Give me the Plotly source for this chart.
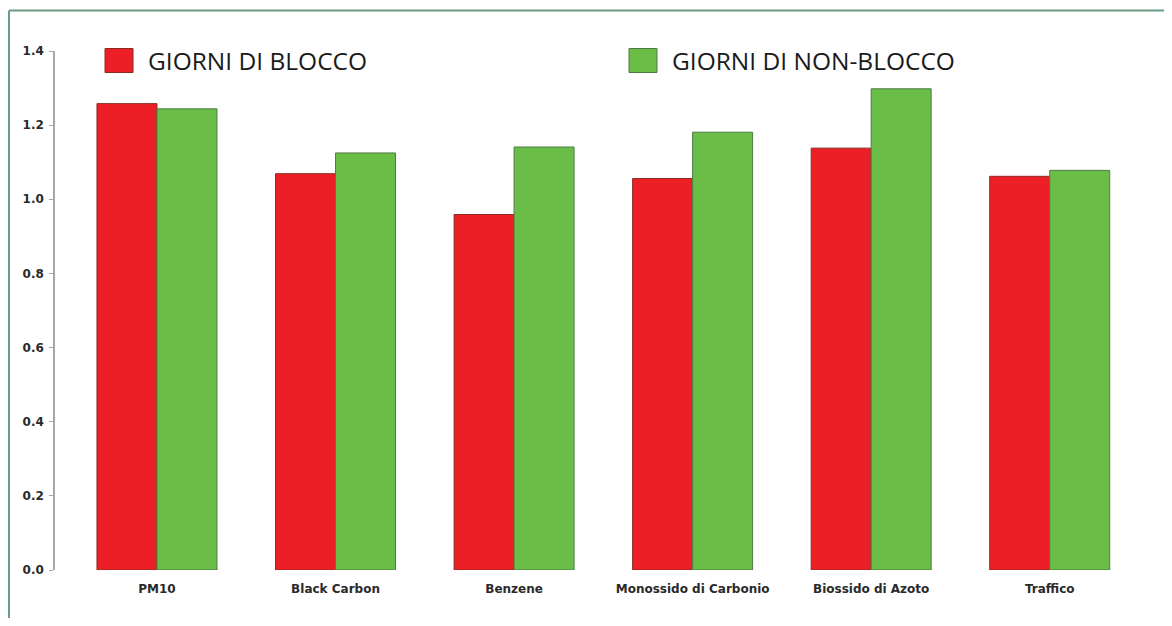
import plotly.graph_objects as go

# data
categorie = ["PM10", "Black Carbon", "Benzene", "Monossido di Carbonio",
             "Biossido di Azoto", "Traffico"]
blocco = [1.258, 1.069, 0.959, 1.056, 1.138, 1.062]
non_blocco = [1.244, 1.125, 1.141, 1.181, 1.298, 1.078]
y_ticks = [0.0, 0.2, 0.4, 0.6, 0.8, 1.0, 1.2, 1.4]

nome_blocco = "GIORNI DI BLOCCO"
nome_non_blocco = "GIORNI DI NON-BLOCCO"

ROSSO = "#ED1F26"
VERDE = "#6ABD46"

# the page body has an 8px margin, so the figure sits at (8, 8)
OFF = 8
W, H = 1172 - 2 * OFF, 626 - 2 * OFF
ML, MR, MT, MB = 46, 25, 43, 48
PW = W - ML - MR
PH = H - MT - MB


def px(x):
    # window pixel -> paper x
    return (x - OFF - ML) / PW


def py(y):
    # window pixel -> paper y
    return (H - MB - (y - OFF)) / PH


fig = go.Figure()
fig.add_trace(go.Bar(
    x=categorie, y=blocco, name=nome_blocco,
    marker=dict(color=ROSSO, line=dict(color="#8a2a22", width=1)),
))
fig.add_trace(go.Bar(
    x=categorie, y=non_blocco, name=nome_non_blocco,
    marker=dict(color=VERDE, line=dict(color="#4f7a45", width=1)),
))

# hand drawn legend (big squares like the original)
for x0, col, lcol, txt in [(105, ROSSO, "#8a2a22", nome_blocco),
                           (629, VERDE, "#4f7a45", nome_non_blocco)]:
    fig.add_shape(type="rect", xref="paper", yref="paper",
                  x0=px(x0), x1=px(x0 + 28), y0=py(72.5), y1=py(48.5),
                  fillcolor=col, line=dict(color=lcol, width=1))
    fig.add_annotation(text=txt, xref="paper", yref="paper",
                       x=px(x0 + 41), y=py(60.5), xanchor="left", yanchor="middle",
                       showarrow=False,
                       font=dict(family="Open Sans", size=24.5, color="#1a1a1a"))

# frame lines (top and left) of the original box
fig.add_shape(type="line", xref="paper", yref="paper",
              x0=px(9), x1=px(W + OFF + 5), y0=py(10.5), y1=py(10.5),
              line=dict(color="#6b9c84", width=2))
fig.add_shape(type="line", xref="paper", yref="paper",
              x0=px(9), x1=px(9), y0=py(10.5), y1=py(H + OFF + 5),
              line=dict(color="#6b9c84", width=2))

fig.update_layout(
    width=W, height=H,
    margin=dict(l=ML, r=MR, t=MT, b=MB),
    paper_bgcolor="white", plot_bgcolor="white",
    barmode="group", bargap=0.328, bargroupgap=0,
    showlegend=False,
    font=dict(family="DejaVu Sans", color="#2a2a2a"),
)
fig.update_xaxes(
    domain=[px(67.7), 1],
    showline=False, showgrid=False, zeroline=False,
    ticks="outside", ticklen=8, tickcolor="rgba(0,0,0,0)",
    tickfont=dict(family="DejaVu Sans", size=12, weight="bold", color="#2a2a2a"),
)
fig.update_yaxes(
    range=[0, 1.4], anchor="free", position=0,
    tickvals=y_ticks, ticktext=["%.1f" % v for v in y_ticks],
    showline=True, linecolor="#a8a8a8", linewidth=1.5,
    showgrid=False, zeroline=False,
    ticks="outside", ticklen=4, tickcolor="#a8a8a8", tickwidth=1,
    ticklabelstandoff=3,
    tickfont=dict(family="DejaVu Sans", size=12, weight="bold", color="#2a2a2a"),
)

fig.write_html("out.html")
